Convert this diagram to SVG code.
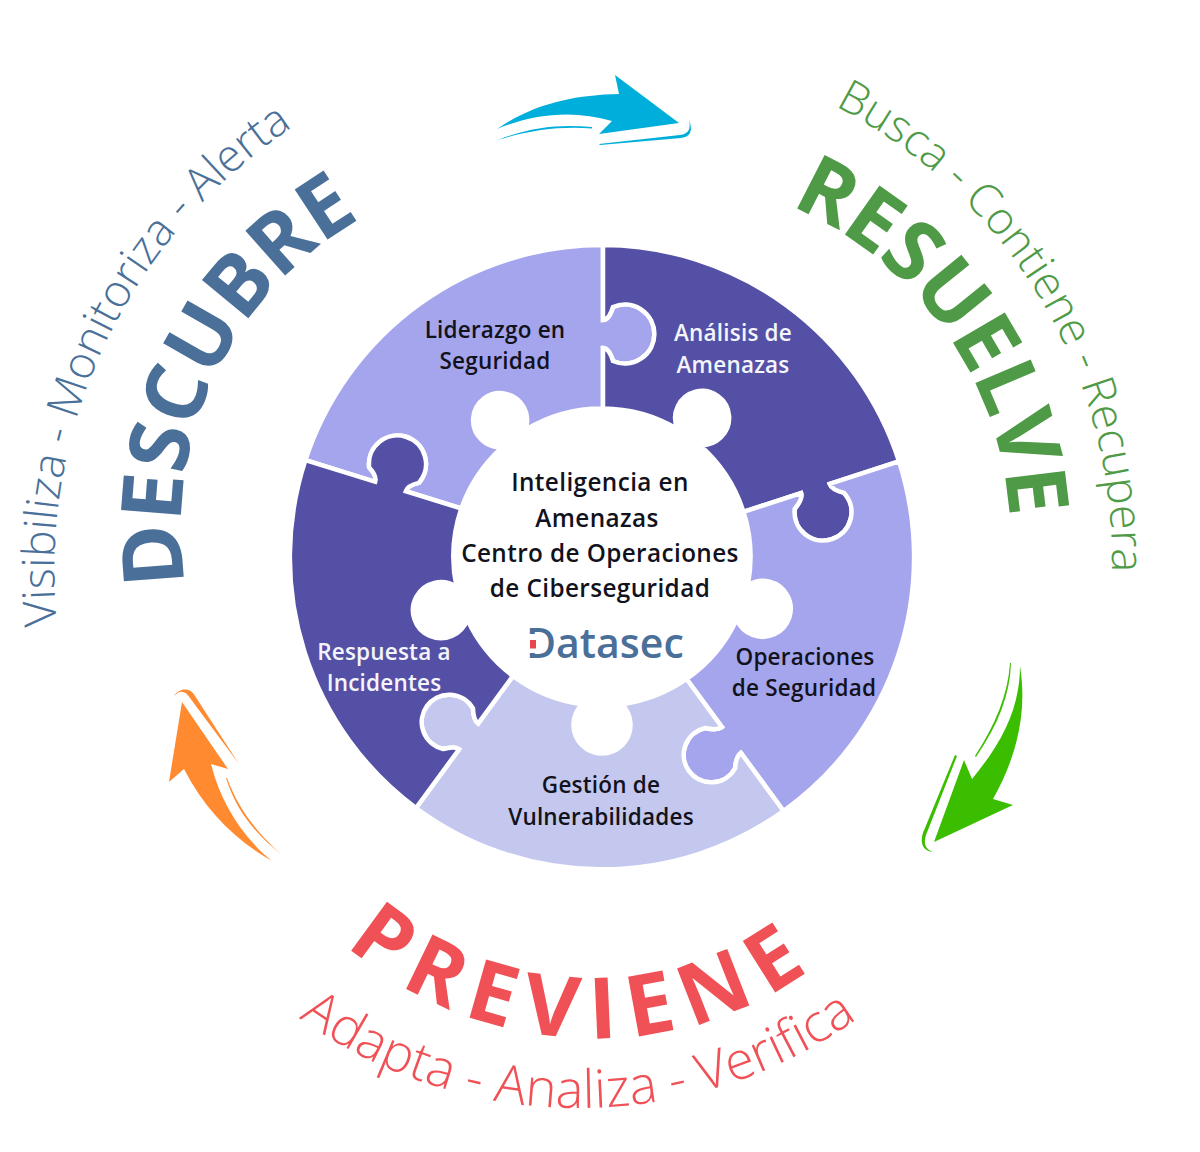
<svg xmlns="http://www.w3.org/2000/svg" width="1200" height="1152" viewBox="0 0 1200 1152">
<style>
.p{stroke:#fff;stroke-width:4.5;stroke-linejoin:miter;stroke-miterlimit:10}
.light{fill:#a5a5ed}.dark{fill:#5450a5}.pale{fill:#c5c8ee}
.l{font-family:"Open Sans","DejaVu Sans",sans-serif;font-weight:600;font-size:22.5px;text-anchor:middle;letter-spacing:.2px}
.k{fill:#12121c}.w{fill:#f4f4fb}
.c{font-family:"Open Sans","DejaVu Sans",sans-serif;font-weight:600;font-size:24.3px;text-anchor:middle;fill:#12121c;letter-spacing:.4px}
.big{font-family:"Open Sans","DejaVu Sans",sans-serif;font-weight:700}
.thin{font-family:"Open Sans","DejaVu Sans",sans-serif;font-weight:300}
.blue{fill:#4a7099}.green{fill:#4f9a46}.red{fill:#f05156}
</style>
<defs>
<path id="pDescubre" d="M185.7,584.2 A354,354 0 0 1 443.4,185"/>
<path id="pVisibiliza" d="M57,625 A533,533 0 0 1 390,76"/>
<path id="pResuelve" d="M790,206 A360,360 0 0 1 997.7,631"/>
<path id="pBusca" d="M835,106 A510,510 0 0 1 1110,604"/>
<path id="pPreviene" d="M346,945 A376,376 0 0 0 882,904"/>
<path id="pAdapta" d="M299,1018 A480,480 0 0 0 929,956"/>
</defs>
<g id="connectors">
<g id="arrow-blue" fill="#00aedb">
<path d="M497,129 C535,103 575,95 619,94 L615,75 L679,123 L599,134 L612,121 C575,110 535,113 497,129 Z"/>
<path d="M498,140 C530,127 560,124 592,127 L592,128.5 C560,126 530,130 498,140 Z"/>
<path d="M599,144 L680,135 C689,134 691,128 689,120 C693,130 691,137 681,138 L600,145 Z"/>
</g>
<g id="arrow-green" fill="#3cbe00">
<path d="M1020,666 C1028,715 1015,760 993,799 L1013,805 L934,842 L964,760 L972,779 C1000,745 1020,710 1020,666 Z"/>
<path d="M1010,663 C1008,695 995,725 975,756 L976,757 C998,725 1010,695 1011,663 Z"/>
<path d="M955,755 L925,828 C919,840 921,851 933,852 C925,849 922,843 928,830 L957,756 Z"/>
</g>
<g id="arrow-orange" fill="#ff8a30">
<path d="M182,702 L228,769 L211,764 C220,800 240,835 272,861 C235,840 205,810 184,769 L169,782 Z"/>
<path d="M226,778 L227,778 C238,808 256,832 282,855 C255,834 236,810 226,778 Z"/>
<path d="M174,696 C179,688 190,687 195,696 L239,764 L190,698 C185,690 180,690 174,696 Z"/>
</g>
</g>
<g id="piece-liderazgo">
<path class="p light" d="M305.4,460.1 A312,312 0 0 1 603,245 V320 Q609,320 613,307 A29.5,29.5 0 1 1 613,361 Q609,348 603,348 V408.5 A148.5,148.5 0 0 0 525.3,429.9 A27,27 0 1 0 502.3,447.1 A148.5,148.5 0 0 0 461.3,508.5 L405.8,491.2 Q407.6,485.5 418.8,482.9 A28.5,28.5 0 1 0 369.2,467.5 Q377,476 375.2,481.8 Z"/>
<text class="l k" x="495" y="338">Liderazgo en</text>
<text class="l k" x="495" y="369">Seguridad</text>
</g>
<g id="piece-analisis">
<path class="p dark" d="M603,245 A312,312 0 0 1 899,461.3 L829.7,483.9 Q831.6,489.6 844.1,492.9 A28.5,28.5 0 1 1 794.7,508.9 Q803,498.8 801.1,493.1 L743.5,511.8 A148.5,148.5 0 0 0 699.2,444.7 A27,27 0 1 0 677.6,429.1 A148.5,148.5 0 0 0 603,408.5 V348 Q609,348 613,361 A29.5,29.5 0 1 0 613,307 Q609,320 603,320 Z"/>
<text class="l w" x="733" y="341">Análisis de</text>
<text class="l w" x="733" y="373">Amenazas</text>
</g>
<g id="piece-operaciones">
<path class="p light" d="M899,461.3 A312,312 0 0 1 783.5,811 L740.9,752.9 Q736,756.5 735,768.6 A27.5,27.5 0 1 1 705.2,728 Q717,730.7 721.9,727.1 L686.6,679 A148.5,148.5 0 0 0 736.8,619.3 A28,28 0 1 0 747.8,585.1 A148.5,148.5 0 0 0 743.5,511.8 L801.1,493.1 Q803,498.8 794.7,508.9 A28.5,28.5 0 1 0 844.1,492.9 Q831.6,489.6 829.7,483.9 Z"/>
<text class="l k" x="805" y="665">Operaciones</text>
<text class="l k" x="804" y="696">de Seguridad</text>
</g>
<g id="piece-gestion">
<path class="p pale" d="M783.5,811 A312,312 0 0 1 416,808 L459.1,749.3 Q454.3,745.7 443.2,749 A27.5,27.5 0 1 1 473,708.4 Q473.3,720 478.1,723.5 L513,675.9 A148.5,148.5 0 0 0 582.4,704.2 A28.5,28.5 0 1 0 621.6,704.2 A148.5,148.5 0 0 0 686.6,679 L721.9,727.1 Q717,730.7 705.2,728 A27.5,27.5 0 1 0 735,768.6 Q736,756.5 740.9,752.9 Z"/>
<text class="l k" x="601" y="793">Gestión de</text>
<text class="l k" x="601" y="825">Vulnerabilidades</text>
</g>
<g id="piece-respuesta">
<path class="p dark" d="M416,808 A312,312 0 0 1 305.4,460.1 L375.2,481.8 Q377,476 369.2,467.5 A28.5,28.5 0 1 1 418.8,482.9 Q407.6,485.5 405.8,491.2 L461.3,508.5 A148.5,148.5 0 0 0 456.5,586.9 A28,28 0 1 0 467.3,619.5 A148.5,148.5 0 0 0 513,675.9 L478.1,723.5 Q473.3,720 473,708.4 A27.5,27.5 0 1 0 443.2,749 Q454.3,745.7 459.1,749.3 Z"/>
<text class="l w" x="384" y="660">Respuesta a</text>
<text class="l w" x="384" y="691">Incidentes</text>
</g>
<g id="centre">
<text class="c" x="600" y="491">Inteligencia en</text>
<text class="c" x="597" y="527">Amenazas</text>
<text class="c" x="600" y="562">Centro de Operaciones</text>
<text class="c" x="600" y="597">de Ciberseguridad</text>
<text x="526" y="658" font-family="'Open Sans',sans-serif" font-weight="600" font-size="41" fill="#4a7099">Datasec</text>
<rect x="526" y="634" width="11" height="19" fill="#fff"/>
<rect x="530" y="640" width="6" height="8.5" fill="#e8464e"/>
</g>
<g id="label-descubre">
<text class="big blue" font-size="84"><textPath href="#pDescubre">DESCUBRE</textPath></text>
<text class="thin blue" font-size="45"><textPath href="#pVisibiliza">Visibiliza - Monitoriza - Alerta</textPath></text>
</g>
<g id="label-resuelve">
<text class="big green" font-size="84" letter-spacing="-1"><textPath href="#pResuelve">RESUELVE</textPath></text>
<text class="thin green" font-size="45"><textPath href="#pBusca">Busca - Contiene - Recupera</textPath></text>
</g>
<g id="label-previene">
<text class="big red" font-size="85" letter-spacing="13.5"><textPath href="#pPreviene">PREVIENE</textPath></text>
<text class="thin red" font-size="52.7"><textPath href="#pAdapta">Adapta - Analiza - Verifica</textPath></text>
</g>
</svg>
